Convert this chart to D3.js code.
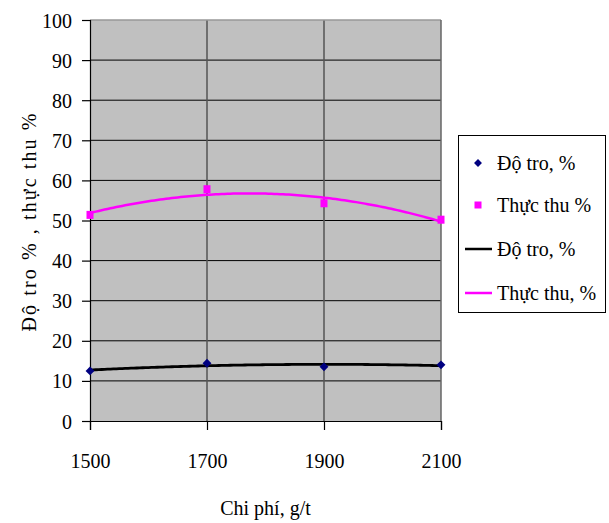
<!DOCTYPE html>
<html><head><meta charset="utf-8">
<script src="https://cdn.jsdelivr.net/npm/d3@7"></script>
<style>body{margin:0;background:#fff}svg{display:block}</style>
</head><body><svg id="c" width="609" height="523" style="font-family:'Liberation Serif'"></svg>
<script>
const costs = [1500, 1700, 1900, 2100];
const ashValues = [12.5, 14.4, 13.5, 14.0];
const yieldValues = [51.4, 57.8, 54.3, 50.2];
const xTicks = [1500, 1700, 1900, 2100];
const yTicks = [0,10,20,30,40,50,60,70,80,90,100];
const legendLabels = ["Độ tro, %", "Thực thu %", "Độ tro, %", "Thực thu, %"];

const FONT = "Liberation Serif";
const svg = d3.select("#c");
const L = 90, R = 441, T = 20, B = 421;
const x = d3.scaleLinear().domain([1500, 2100]).range([L, R]);
const y = d3.scaleLinear().domain([0, 100]).range([B, T]);

// quadratic least-squares trendline (as Excel polynomial trendline)
function polyFit(xs, ys) {
  const m = d3.mean(xs);
  const t = xs.map(v => (v - m) / 100);
  let S = [0,0,0,0,0], Sy = [0,0,0];
  t.forEach((ti, i) => { for (let k=0;k<5;k++) S[k]+=Math.pow(ti,k); for (let k=0;k<3;k++) Sy[k]+=Math.pow(ti,k)*ys[i]; });
  const A = [[S[0],S[1],S[2]],[S[1],S[2],S[3]],[S[2],S[3],S[4]]];
  const det = M => M[0][0]*(M[1][1]*M[2][2]-M[1][2]*M[2][1]) - M[0][1]*(M[1][0]*M[2][2]-M[1][2]*M[2][0]) + M[0][2]*(M[1][0]*M[2][1]-M[1][1]*M[2][0]);
  const D = det(A);
  const coef = [0,1,2].map(c => det(A.map((row,r) => row.map((v,j) => j===c ? Sy[r] : v))) / D);
  return xv => { const tt = (xv - m)/100; return coef[0] + coef[1]*tt + coef[2]*tt*tt; };
}
const ashFit = polyFit(costs, ashValues);
const yieldFit = polyFit(costs, yieldValues);
const samples = d3.range(1500, 2100.1, 5);

svg.append("rect").attr("x", L).attr("y", T).attr("width", R - L).attr("height", B - T).attr("fill", "#c0c0c0");

svg.append("g").selectAll("line").data(yTicks.filter(d => d > 0 && d < 100)).join("line")
  .attr("x1", L).attr("x2", R).attr("y1", d => y(d)).attr("y2", d => y(d))
  .attr("stroke", "#000").attr("stroke-width", 1);
svg.append("g").selectAll("line").data(xTicks.filter(d => d > 1500 && d < 2100)).join("line")
  .attr("x1", d => x(d)).attr("x2", d => x(d)).attr("y1", T).attr("y2", B)
  .attr("stroke", "#555").attr("stroke-width", 1.5);

svg.append("line").attr("x1", L).attr("x2", R).attr("y1", T).attr("y2", T).attr("stroke", "#999").attr("stroke-width", 1.3);
svg.append("line").attr("x1", R).attr("x2", R).attr("y1", T).attr("y2", B).attr("stroke", "#666").attr("stroke-width", 1.5);

const yAxis = svg.append("g").attr("transform", `translate(${L},0)`)
  .call(d3.axisLeft(y).tickValues(yTicks).tickSize(8).tickPadding(10));
const xAxis = svg.append("g").attr("transform", `translate(0,${B})`)
  .call(d3.axisBottom(x).tickValues(xTicks).tickSize(9).tickPadding(24).tickFormat(d3.format("d")));
[yAxis, xAxis].forEach(a => {
  a.attr("font-family", FONT).attr("font-size", 20);
  a.select(".domain").attr("stroke", "#000").attr("stroke-width", 1.2);
  a.selectAll(".tick line").attr("stroke", "#000").attr("stroke-width", 1.2);
  a.selectAll("text").attr("font-family", FONT).attr("font-size", 20).attr("fill", "#000");
});
yAxis.selectAll("text").attr("dy", "0.35em");

const line = f => d3.line().x(d => x(d)).y(d => y(f(d)));
svg.append("path").datum(samples).attr("d", line(ashFit)).attr("fill", "none").attr("stroke", "#000").attr("stroke-width", 2.8);
svg.append("path").datum(samples).attr("d", line(yieldFit)).attr("fill", "none").attr("stroke", "#ff00ff").attr("stroke-width", 2.5);

svg.append("g").selectAll("path").data(costs).join("path")
  .attr("d", d3.symbol(d3.symbolDiamond2, 50))
  .attr("transform", (d, i) => `translate(${x(d)},${y(ashValues[i])})`)
  .attr("fill", "#000080");
svg.append("g").selectAll("rect").data(costs).join("rect")
  .attr("x", d => x(d) - 3.5).attr("y", (d, i) => y(yieldValues[i]) - 4)
  .attr("width", 7).attr("height", 8).attr("fill", "#ff00ff");

svg.append("text").attr("x", (L + R) / 2).attr("y", 515).attr("text-anchor", "middle")
  .attr("font-family", FONT).attr("font-size", 20).text("Chi phí, g/t");
svg.append("text").attr("transform", `translate(36,${(T + B) / 2 + 2}) rotate(-90)`).attr("text-anchor", "middle")
  .attr("font-family", FONT).attr("font-size", 20)
  .attr("textLength", 218).attr("lengthAdjust", "spacing")
  .text("Độ tro % , thực thu %");

const lg = svg.append("g");
lg.append("rect").attr("x", 458.5).attr("y", 135.5).attr("width", 147).attr("height", 177).attr("fill", "#fff").attr("stroke", "#000").attr("stroke-width", 1);
const rowY = [163, 205, 249, 293];
lg.append("path").attr("d", d3.symbol(d3.symbolDiamond2, 40)).attr("transform", `translate(478,${rowY[0]})`).attr("fill", "#000080");
lg.append("rect").attr("x", 474.5).attr("y", rowY[1] - 3.5).attr("width", 7).attr("height", 7).attr("fill", "#ff00ff");
lg.append("line").attr("x1", 465).attr("x2", 492).attr("y1", rowY[2]).attr("y2", rowY[2]).attr("stroke", "#000").attr("stroke-width", 2.5);
lg.append("line").attr("x1", 465).attr("x2", 492).attr("y1", rowY[3]).attr("y2", rowY[3]).attr("stroke", "#ff00ff").attr("stroke-width", 2.5);
lg.selectAll("text.lab").data(legendLabels).join("text").attr("class", "lab")
  .attr("x", 497).attr("y", (d, i) => rowY[i]).attr("dy", "0.35em")
  .attr("font-family", FONT).attr("font-size", 20).text(d => d);
</script></body></html>
